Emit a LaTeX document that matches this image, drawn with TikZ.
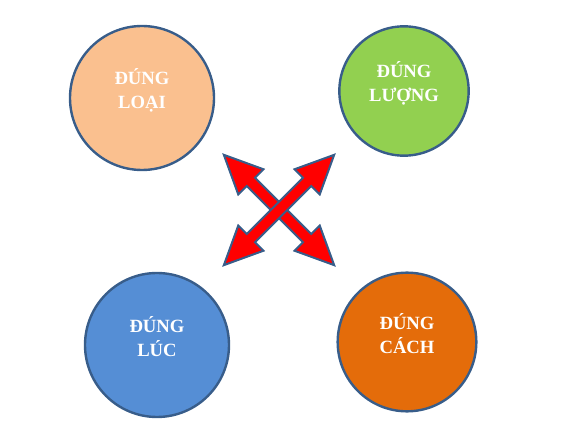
\documentclass[tikz,border=0pt]{standalone}
\usepackage{fontspec}
\setmainfont{Liberation Serif}
\usetikzlibrary{shapes.arrows}
\definecolor{rim}{HTML}{385D8A}
\definecolor{peach}{HTML}{FAC08F}
\definecolor{leaf}{HTML}{92D050}
\definecolor{sky}{HTML}{558ED5}
\definecolor{amber}{HTML}{E46C0A}
\tikzset{ball/.style={circle,draw=rim,line width=1.8pt,inner sep=0pt}}
\tikzset{tag/.style={align=center,text=white,font=\bfseries\fontsize{14}{18}\selectfont}}
\tikzset{cross/.style={double arrow,draw=rim,fill=red,line width=1.5pt,
  inner xsep=0pt,inner ysep=3.6pt,minimum height=117pt,
  double arrow head extend=9pt,double arrow tip angle=50}}

\begin{document}
\begin{tikzpicture}[x=0.75pt,y=-0.75pt]
      \useasboundingbox (0,0) rectangle (578,434);
      \node [ball,fill=peach,minimum size=108pt] (loai) at (142,98) {};
      \node [ball,fill=leaf,minimum size=97pt] (luong) at (404,91) {};
      \node [ball,fill=sky,minimum size=108pt] (luc) at (157,345) {};
      \node [ball,fill=amber,minimum size=104pt] (cach) at (407,342) {};
      \node [tag] at ([yshift=6pt]loai.center) {ĐÚNG\\LOẠI};
      \node [tag] at ([yshift=6pt]luong.center) {ĐÚNG\\LƯỢNG};
      \node [tag] at ([yshift=6pt]luc.center) {ĐÚNG\\LÚC};
      \node [tag] at ([yshift=6pt]cach.center) {ĐÚNG\\CÁCH};
      \node [cross,rotate=-45] (diagA) at (279,210) {};
      \node [cross,rotate=45] (diagB) at (279,210) {};
    \end{tikzpicture}
\end{document}
